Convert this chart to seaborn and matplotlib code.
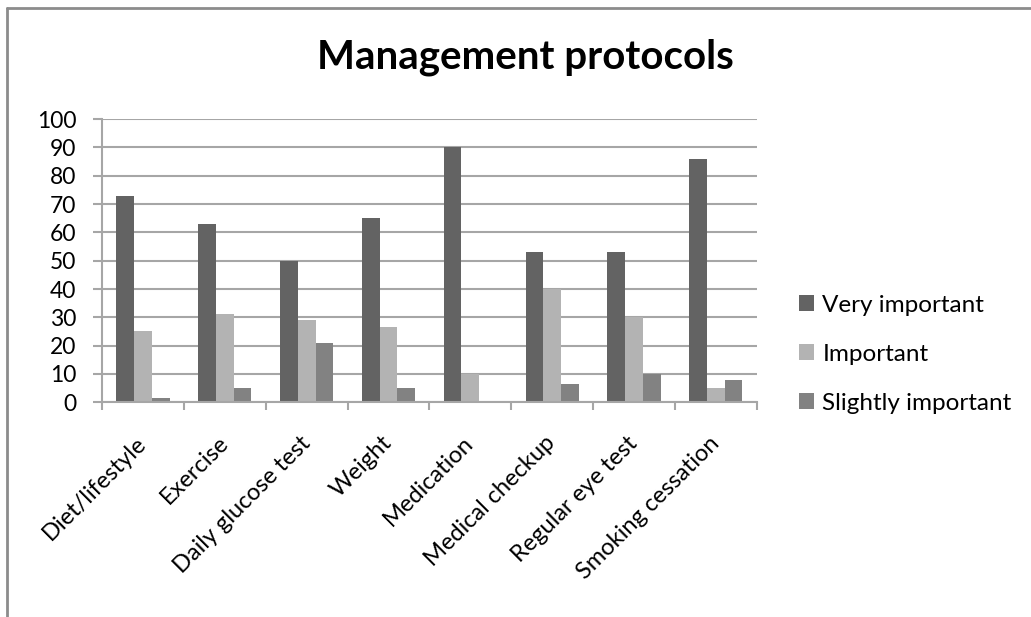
import pandas as pd
import matplotlib.pyplot as plt
import seaborn as sns
from matplotlib.patches import Patch
from matplotlib.lines import Line2D

# === DATOS ===
categorias = ["Diet/lifestyle", "Exercise", "Daily glucose test", "Weight",
              "Medication", "Medical checkup", "Regular eye test", "Smoking cessation"]
very_important = [73, 63, 50, 65, 90, 53, 53, 86]
important = [25, 31, 29, 26.5, 10, 40, 30, 5]
slightly_important = [1.5, 5, 21, 5, 0, 6.5, 10, 8]
series = ["Very important", "Important", "Slightly important"]
colores = ["#636363", "#b3b3b3", "#828282"]

df = pd.DataFrame({
    "Protocolo": categorias * 3,
    "Serie": [s for s in series for _ in categorias],
    "Valor": very_important + important + slightly_important,
})

# === ESTILO ===
sns.set_style("white")
plt.rcParams['font.family'] = ['Lato', 'DejaVu Sans']
plt.rcParams['text.color'] = 'black'
plt.rcParams['xtick.color'] = 'black'
plt.rcParams['ytick.color'] = 'black'

fig = plt.figure(figsize=(10.31, 6.17), dpi=100)
ax = fig.add_axes([0.099, 0.348, 0.635, 0.459])

sns.barplot(data=df, x="Protocolo", y="Valor", hue="Serie", order=categorias,
            hue_order=series, palette=colores, width=0.65, saturation=1,
            linewidth=0, ax=ax, legend=False)

# ejes y rejilla
grid_color = "#a6a6a6"
ax.set_ylim(0, 100)
ax.set_xlim(-0.5, len(categorias) - 0.5)
ax.set_yticks(range(0, 101, 10))
ax.yaxis.grid(True, color=grid_color, linewidth=1.5)
ax.set_axisbelow(True)
for lado in ["top", "right"]:
    ax.spines[lado].set_visible(False)
for lado in ["left", "bottom"]:
    ax.spines[lado].set_color(grid_color)
    ax.spines[lado].set_linewidth(1.5)

ax.set_xlabel("")
ax.set_ylabel("")
ax.tick_params(axis="y", which="major", length=6.5, width=1.5, color=grid_color,
               labelsize=16.5, pad=12, left=True)
# marcas del eje x entre categorías
ax.set_xticks([i - 0.5 for i in range(len(categorias) + 1)], minor=True)
ax.tick_params(axis="x", which="minor", length=6, width=1.5, color=grid_color,
               bottom=True, direction="out")
ax.tick_params(axis="x", which="major", length=0, labelsize=17, pad=27)
ax.set_xticks(range(len(categorias)))
ax.set_xticklabels(categorias, rotation=45, ha="right", va="center",
                   rotation_mode="anchor")

# título
fig.text(0.510, 1 - 69 / 617, "Management protocols", ha="center", va="baseline",
         fontsize=29, fontweight="bold")

# leyenda
handles = [Patch(facecolor=c, edgecolor="none", label=s) for c, s in zip(colores, series)]
fig.legend(handles=handles, loc="center left", bbox_to_anchor=(0.754, 0.426),
           frameon=False, fontsize=17.5, handlelength=0.6, handleheight=0.6,
           handletextpad=0.35, labelspacing=1.15)

# marco del gráfico (solo arriba e izquierda visibles)
x0 = 7 / 1031
y0 = 1 - 7.5 / 617
fig.add_artist(Line2D([x0, 1.0], [y0, y0], transform=fig.transFigure,
                      color="#8c8c8c", linewidth=2))
fig.add_artist(Line2D([x0, x0], [0.0, y0], transform=fig.transFigure,
                      color="#8c8c8c", linewidth=2))

fig.savefig("out.png", dpi=100)
